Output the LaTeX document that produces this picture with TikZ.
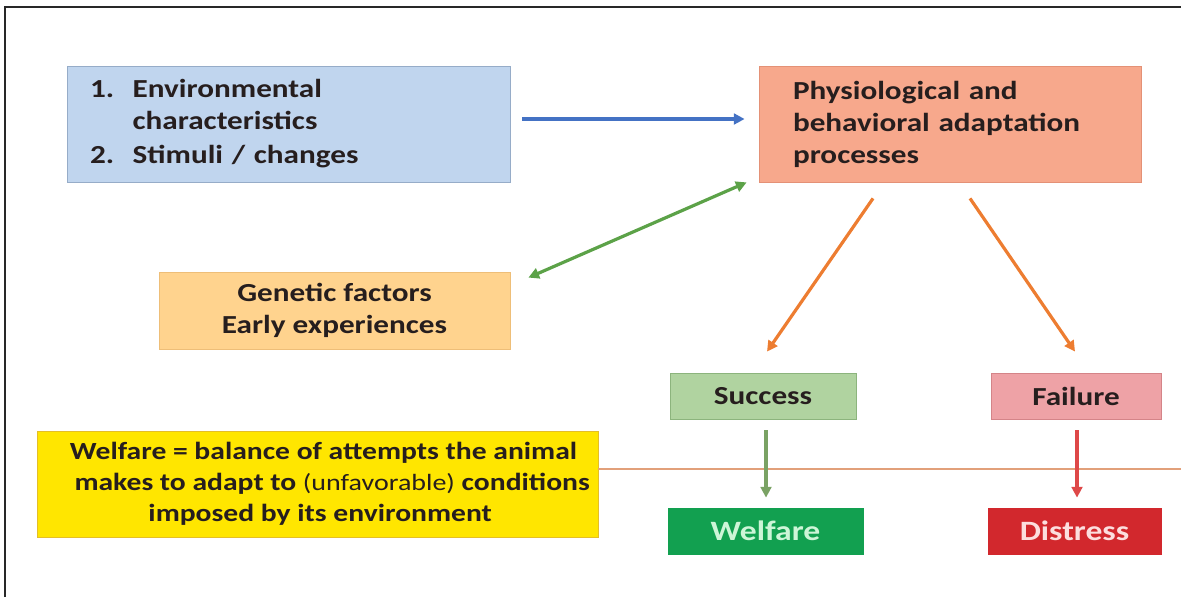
\documentclass[tikz,border=0pt]{standalone}
\usepackage{fontspec}
\setmainfont{Carlito}[FakeStretch=1.2]
\usetikzlibrary{arrows.meta,calc}

\definecolor{txtdark}{RGB}{38,30,30}
\definecolor{envfill}{RGB}{192,213,238}
\definecolor{envline}{RGB}{150,172,200}
\definecolor{physfill}{RGB}{247,168,140}
\definecolor{physline}{RGB}{228,145,118}
\definecolor{genfill}{RGB}{255,211,142}
\definecolor{genline}{RGB}{238,190,120}
\definecolor{succfill}{RGB}{176,211,160}
\definecolor{succline}{RGB}{140,180,125}
\definecolor{failfill}{RGB}{238,162,166}
\definecolor{failline}{RGB}{212,132,136}
\definecolor{welffill}{RGB}{18,160,80}
\definecolor{welftext}{RGB}{205,245,215}
\definecolor{distfill}{RGB}{210,40,45}
\definecolor{disttext}{RGB}{252,222,222}
\definecolor{yelfill}{RGB}{255,230,0}
\definecolor{yelline}{RGB}{228,190,40}
\definecolor{tanline}{RGB}{226,160,122}
\definecolor{bluearr}{RGB}{68,114,196}
\definecolor{greenarr}{RGB}{92,162,72}
\definecolor{orangearr}{RGB}{237,125,49}
\definecolor{sagearr}{RGB}{122,162,100}
\definecolor{redarr}{RGB}{222,72,72}

\begin{document}
\begin{tikzpicture}[x=0.75pt,y=0.75pt,yscale=-1,xscale=1,
  box/.style={line width=0.6pt, inner sep=0pt, text=txtdark,
    font=\bfseries\fontsize{19.5}{24}\selectfont},
  arr/.style={line width=2.4pt, -{Triangle[length=8pt,width=8pt]}}]
\useasboundingbox (0,0) rectangle (1181,597);

%Frame
\draw [line width=1.1pt, color={rgb, 255:red, 40; green, 40; blue, 40 }] (5,597) -- (5,7) -- (1181,7) ;

% Boxes
\node [box, fill=envfill, draw=envline, minimum width=332.25pt, minimum height=87pt,
  text width=297.75pt, align=left] (env) at (288.5,124)
  {\begin{tabular}{@{}p{32pt}@{}l@{}}
   1. & Environmental\\
      & characteristics\\[2pt]
   2. & Stimuli / changes
   \end{tabular}};
\node [box, fill=physfill, draw=physline, minimum width=286.5pt, minimum height=87pt,
  text width=235.5pt, align=left] (phys) at (950,124)
  {Physiological and\\ behavioral adaptation\\ processes};
\node [box, fill=genfill, draw=genline, minimum width=263.25pt, minimum height=57.75pt,
  align=center] (gen) at (334.5,310.5)
  {Genetic factors\\ Early experiences};
\node [box, fill=succfill, draw=succline, minimum width=139.5pt, minimum height=34.5pt]
  (succ) at (763,396) {Success};
\node [box, fill=failfill, draw=failline, minimum width=127.5pt, minimum height=34.5pt]
  (fail) at (1076,396) {Failure};
\node [box, fill=welffill, draw=welffill, text=welftext, minimum width=146.25pt, minimum height=34.5pt,
  font=\bfseries\fontsize{21}{25}\selectfont] (welf) at (765.5,531) {Welfare};
\node [box, fill=distfill, draw=distfill, text=disttext, minimum width=129.75pt, minimum height=34.5pt,
  font=\bfseries\fontsize{21}{25}\selectfont] (dist) at (1074.5,531) {Distress};
\node [box, fill=yelfill, draw=yelline, minimum width=420.75pt, minimum height=79.5pt,
  align=center, font=\bfseries\fontsize{18.5}{23.25}\selectfont] (yel) at (317.5,484)
  {\hspace*{9pt}Welfare = balance of attempts the animal\\
   \hspace*{22pt}makes to adapt to {\mdseries\fontsize{17.5}{23.25}\selectfont(unfavorable)} conditions\\
   \hspace*{4pt}imposed by its environment};

%Straight Lines
\coordinate (lineend) at (1181,469);
\draw [line width=1.2pt, color=tanline] ($(yel.east)+(0,-15)$) -- (lineend) ;

% Arrows
\draw [arr, color=bluearr] ($(env.east)+(12,-5)$) -- ($(phys.west)+(-14,-5)$) ;
\draw [arr, {Triangle[length=8pt,width=8pt]}-{Triangle[length=8pt,width=8pt]}, color=greenarr] ($(gen.north east)+(18,6)$) -- ($(phys.south west)+(-12,0)$) ;
\draw [arr, color=orangearr] ($(phys.south)+(-77,16)$) -- ($(succ.north)+(4,-21)$) ;
\draw [arr, color=orangearr] ($(phys.south)+(20,16)$) -- ($(fail.north)+(-1,-21)$) ;
\draw [arr, color=sagearr] ($(succ.south)+(3,11)$) -- ($(welf.north)+(0.5,-10)$) ;
\draw [arr, color=redarr] ($(fail.south)+(1,11)$) -- ($(dist.north)+(2.5,-10)$) ;

\end{tikzpicture}
\end{document}
